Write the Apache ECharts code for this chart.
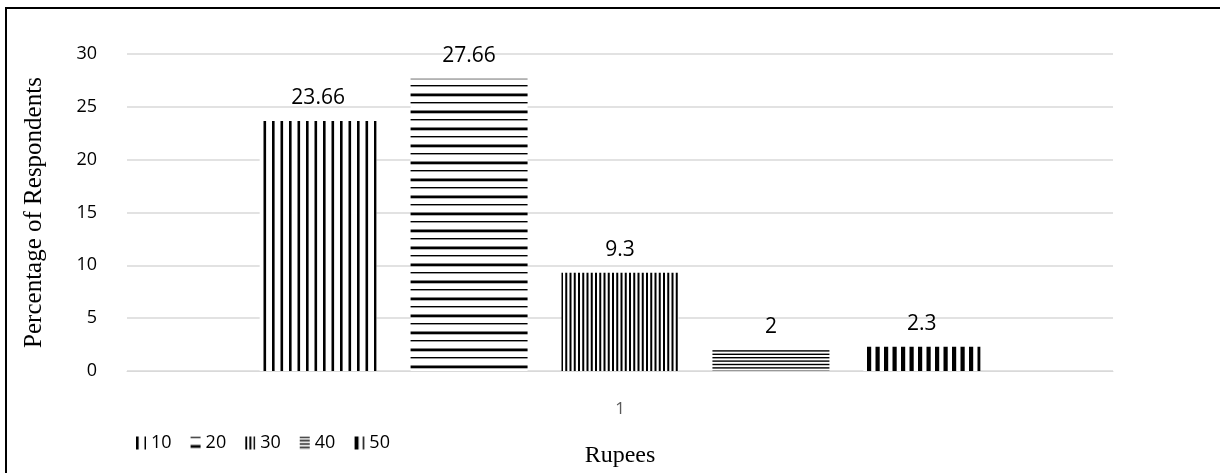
<!DOCTYPE html>
<html>
<head>
<meta charset="utf-8">
<script src="https://cdn.jsdelivr.net/npm/echarts@6/dist/echarts.min.js"></script>
<style>
  html, body { margin: 0; padding: 0; background: #fff; }
  #chart { width: 1220px; height: 473px; }
</style>
</head>
<body>
<div id="chart"></div>
<script>
// Survey data: share of respondents per amount (Rupees)
const categories = ['1'];
const seriesNames = ['10', '20', '30', '40', '50'];
const seriesValues = [23.66, 27.66, 9.3, 2, 2.3];
const yTicks = { min: 0, max: 30, interval: 5 };

// Hatch fills drawn onto small tiles and used as repeating patterns
function hatch(size, draw) {
  const c = document.createElement('canvas');
  c.width = size; c.height = size;
  const ctx = c.getContext('2d');
  ctx.fillStyle = '#fff';
  ctx.fillRect(0, 0, size, size);
  ctx.fillStyle = '#000';
  draw(ctx, size);
  return { image: c, repeat: 'repeat' };
}
const vLines = (w, n) => hatch(17, (ctx, s) => {
  for (let i = 0; i < n; i++) ctx.fillRect(i * s / n, 0, w, s);
});
const hLines = (ws) => hatch(17, (ctx, s) => {
  const n = ws.length;
  for (let i = 0; i < n; i++) ctx.fillRect(0, i * s / n, s, ws[i]);
});

const fills = [
  vLines(2.6, 2),                    // wide vertical
  hLines([1.4, 2.8]),                // horizontal, thin/thick
  vLines(2, 4),                      // dense vertical
  hLines([1.4, 1.4, 1.4, 1.4, 1.4]), // dense horizontal
  vLines(4.2, 2)                     // heavy vertical
];

const chart = echarts.init(document.getElementById('chart'), null, { renderer: 'canvas' });

const series = seriesNames.map((name, i) => ({
  name: name,
  type: 'bar',
  data: [seriesValues[i]],
  barWidth: 117,
  barGap: '29%',
  itemStyle: { color: fills[i] },
  label: {
    show: true,
    position: 'top',
    distance: 12,
    color: '#000',
    fontFamily: 'Open Sans',
    fontSize: 21
  }
}));

chart.setOption({
  animation: false,
  backgroundColor: '#fff',
  grid: { left: 127, right: 107, top: 54, bottom: 99, containLabel: false },
  legend: {
    left: 131,
    top: 429,
    icon: 'rect',
    itemWidth: 10,
    itemHeight: 13,
    itemGap: 19,
    textStyle: { fontFamily: 'Open Sans', fontSize: 18, color: '#000' },
    data: seriesNames
  },
  xAxis: {
    type: 'category',
    data: categories,
    name: 'Rupees',
    nameLocation: 'middle',
    nameGap: 73,
    nameTextStyle: { fontFamily: 'Liberation Serif', fontSize: 24, color: '#000' },
    axisLine: { lineStyle: { color: '#d9d9d9', width: 1 } },
    axisTick: { show: false },
    axisLabel: { margin: 30, fontFamily: 'Open Sans', fontSize: 17, color: '#595959' }
  },
  yAxis: {
    type: 'value',
    min: yTicks.min,
    max: yTicks.max,
    interval: yTicks.interval,
    name: 'Percentage of Respondents',
    nameLocation: 'middle',
    nameGap: 80,
    nameTextStyle: { fontFamily: 'Liberation Serif', fontSize: 25, color: '#000' },
    axisLine: { show: false },
    axisTick: { show: false },
    axisLabel: { margin: 30, fontFamily: 'Open Sans', fontSize: 18, color: '#000' },
    splitLine: { lineStyle: { color: '#d9d9d9', width: 1.5 } }
  },
  graphic: [{
    type: 'polyline',
    shape: { points: [[6, 473], [6, 8], [1220, 8]] },
    style: { stroke: '#000', lineWidth: 2, fill: null },
    silent: true
  }],
  series: series
});
</script>
</body>
</html>
